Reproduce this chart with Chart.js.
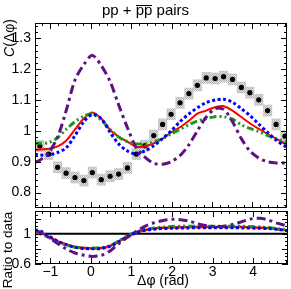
<!DOCTYPE html>
<html><head><meta charset="utf-8">
<script src="https://cdn.jsdelivr.net/npm/chart.js@4.4.1/dist/chart.umd.min.js"></script>
<style>
html,body{margin:0;padding:0;background:#fff;}
#wrap{position:relative;width:291px;height:289px;overflow:hidden;background:#fff;font-family:"Liberation Sans",Arial,sans-serif;color:#000;}
canvas{position:absolute;left:0;}
.lbl{position:absolute;white-space:nowrap;color:#000;}
</style></head><body>
<div id="wrap">
<canvas id="main" width="291" height="212" style="top:0"></canvas>
<canvas id="ratio" width="291" height="78" style="top:211px"></canvas>
<div class="lbl" style="left:0;top:1px;width:291px;text-align:center;font-size:15px;line-height:17px;">pp + <span style="display:inline-block;border-top:1.3px solid #000;line-height:7px;">pp</span> pairs</div>
<div class="lbl" style="left:-22px;top:30px;width:62px;height:16px;line-height:16px;font-size:14px;text-align:center;transform:rotate(-90deg);"><i>C</i>(Δφ)</div>
<div class="lbl" style="left:-37px;top:242px;width:90px;height:16px;line-height:16px;font-size:13.5px;text-align:center;transform:rotate(-90deg);">Ratio to data</div>
<div class="lbl" style="left:113px;top:272px;width:100px;text-align:center;font-size:14px;line-height:17px;">Δφ (rad)</div>
</div>
<script>
// ---- data ----
const phi = [-1.26,-1.04,-0.82,-0.61,-0.39,-0.17,0.04,0.26,0.48,0.69,0.91,1.13,1.34,1.56,1.78,1.99,2.21,2.43,2.64,2.86,3.08,3.29,3.51,3.73,3.94,4.16,4.38,4.59,4.81];
const dataC = [0.951,0.925,0.882,0.863,0.849,0.839,0.865,0.842,0.853,0.860,0.880,0.925,0.952,0.985,1.021,1.054,1.091,1.121,1.148,1.172,1.170,1.176,1.167,1.141,1.124,1.101,1.066,1.021,0.983];
const sysErr = [0.018,0.018,0.018,0.018,0.018,0.018,0.018,0.018,0.018,0.018,0.018,0.018,0.018,0.018,0.018,0.018,0.018,0.018,0.018,0.018,0.018,0.018,0.018,0.018,0.018,0.018,0.018,0.018,0.018];

const modelPhi = [-1.38,-1.26,-1.04,-0.82,-0.61,-0.39,-0.17,0.04,0.26,0.48,0.69,0.91,1.13,1.34,1.56,1.78,1.99,2.21,2.43,2.64,2.86,3.08,3.29,3.51,3.73,3.94,4.16,4.38,4.59,4.81,4.86];
const modelRed    = [0.938,0.940,0.942,0.950,0.968,1.005,1.040,1.060,1.040,1.003,0.982,0.965,0.948,0.950,0.960,0.975,0.995,1.012,1.033,1.056,1.066,1.077,1.080,1.066,1.045,1.025,1.007,0.990,0.975,0.958,0.955];
const modelBlue   = [0.925,0.922,0.922,0.930,0.945,0.985,1.030,1.053,1.040,0.995,0.958,0.935,0.925,0.935,0.952,0.975,1.000,1.030,1.055,1.075,1.092,1.100,1.103,1.093,1.072,1.050,1.022,0.995,0.970,0.950,0.946];
const modelGreen  = [0.960,0.960,0.962,0.978,1.005,1.030,1.048,1.055,1.035,1.005,0.980,0.965,0.958,0.958,0.964,0.975,0.990,1.005,1.020,1.032,1.040,1.046,1.046,1.038,1.020,1.008,0.998,0.985,0.975,0.965,0.963];
const modelPurple = [0.898,0.905,0.930,0.980,1.065,1.165,1.215,1.245,1.212,1.160,1.085,1.010,0.945,0.915,0.895,0.892,0.900,0.920,0.955,1.000,1.045,1.072,1.070,1.030,0.975,0.935,0.912,0.900,0.896,0.896,0.896];

const ratioRed    = [1.035,1.020,0.960,0.900,0.860,0.825,0.810,0.805,0.810,0.840,0.900,0.970,1.020,1.050,1.068,1.078,1.082,1.085,1.088,1.090,1.090,1.090,1.090,1.090,1.088,1.085,1.080,1.075,1.060,1.045,1.040];
const ratioBlue   = [1.045,1.040,0.970,0.900,0.855,0.820,0.805,0.800,0.805,0.835,0.895,0.965,1.015,1.045,1.060,1.068,1.072,1.075,1.077,1.078,1.078,1.078,1.078,1.078,1.077,1.075,1.072,1.068,1.058,1.043,1.040];
const ratioGreen  = [1.000,1.000,0.950,0.890,0.850,0.820,0.810,0.810,0.815,0.845,0.905,0.975,1.025,1.055,1.075,1.088,1.095,1.100,1.100,1.100,1.100,1.100,1.100,1.100,1.098,1.095,1.090,1.082,1.068,1.055,1.050];
const ratioPurple = [1.045,1.020,0.950,0.870,0.800,0.745,0.715,0.700,0.715,0.775,0.870,0.955,1.035,1.100,1.145,1.175,1.190,1.185,1.165,1.130,1.105,1.095,1.100,1.125,1.160,1.195,1.205,1.180,1.140,1.110,1.100];

const xTicks = [-1,0,1,2,3,4];
const mainYTicks = [0.8,0.9,1,1.1,1.2,1.3];
const ratioYTicks = [0.6,0.8,1,1.2];

// ---- styling ----
const FONT = "'Liberation Sans', Arial, sans-serif";
Chart.defaults.font.family = FONT;
Chart.defaults.font.size = 14;
Chart.defaults.color = '#000';

const COL = {red:'#ff0000', blue:'#0000ff', green:'#1a9a1a', purple:'#5c1280'};

function pts(xs, ys){ return xs.map((x,i)=>({x, y:ys[i]})); }
function fmtNum(v){ return String(Math.round(v*100)/100).replace('-', '\u2212'); }

const rootFrame = {
  id:'rootFrame',
  beforeDatasetsDraw(chart, args, o){
    if (o.refLine == null) return;
    const {ctx, chartArea:a, scales:{y}} = chart;
    const py = y.getPixelForValue(o.refLine);
    ctx.save(); ctx.strokeStyle='#000'; ctx.lineWidth=2;
    ctx.beginPath(); ctx.moveTo(a.left,py); ctx.lineTo(a.right,py); ctx.stroke(); ctx.restore();
  },
  afterDatasetsDraw(chart, args, o){
    const {ctx, chartArea:a, scales:{x,y}} = chart;
    ctx.save(); ctx.strokeStyle='#000'; ctx.lineWidth=1;
    ctx.strokeRect(Math.round(a.left)+0.5, Math.round(a.top)+0.5, Math.round(a.right-a.left)-1, Math.round(a.bottom-a.top)-1);
    ctx.beginPath();
    const steps = (scale, step, cb) => { const n0=Math.ceil(scale.min/step-1e-9), n1=Math.floor(scale.max/step+1e-9); for(let k=n0;k<=n1;k++) cb(scale.getPixelForValue(k*step)); };
    const xt = (px,len)=>{ const X=Math.round(px)+0.5; ctx.moveTo(X,a.bottom); ctx.lineTo(X,a.bottom-len); ctx.moveTo(X,a.top); ctx.lineTo(X,a.top+len); };
    const yt = (py,len)=>{ const Y=Math.round(py)+0.5; ctx.moveTo(a.left,Y); ctx.lineTo(a.left+len,Y); ctx.moveTo(a.right,Y); ctx.lineTo(a.right-len,Y); };
    steps(x, o.xMinor, p=>xt(p,3));
    o.xMajor.forEach(v=>xt(x.getPixelForValue(v),6));
    steps(y, o.yMinor, p=>yt(p,3));
    o.yMajor.forEach(v=>yt(y.getPixelForValue(v),6));
    ctx.stroke(); ctx.restore();
  }
};

function pattern(ctx){
  const c=document.createElement('canvas'); c.width=2; c.height=2;
  const g=c.getContext('2d');
  g.fillStyle='#e0e0e0'; g.fillRect(0,0,2,2);
  g.fillStyle='#b4b4b4'; g.fillRect(0,0,1,1); g.fillRect(1,1,1,1);
  return ctx.createPattern(c,'repeat');
}

function lineDs(xs, ys, color, width, dash, order){
  return {type:'line', data:pts(xs,ys), borderColor:color, backgroundColor:color, borderWidth:width,
    borderDash:dash, borderCapStyle:'butt', pointRadius:0, fill:false, tension:0.3, clip:0, order};
}

function yAxis(min, max, ticks){
  return {type:'linear', min, max, position:'left',
    grid:{display:false, drawTicks:false}, border:{display:false},
    ticks:{padding:4, callback:fmtNum, font:{size:14}},
    afterBuildTicks:s=>{ s.ticks = ticks.map(v=>({value:v})); },
    afterFit:s=>{ s.width=35; s.paddingTop=0; s.paddingBottom=0; }};
}

const mainCtx = document.getElementById('main').getContext('2d');
new Chart(mainCtx, {
  type:'line',
  data:{datasets:[
    {type:'bar', data:phi.map((x,i)=>({x, y:[dataC[i]-sysErr[i], dataC[i]+sysErr[i]]})),
      backgroundColor:pattern(mainCtx), borderWidth:0, barPercentage:1, categoryPercentage:1, clip:0, order:10},
    {type:'line', data:pts(phi,dataC), showLine:false, pointRadius:2.6, pointBackgroundColor:'#000', pointBorderWidth:0, borderColor:'#000', clip:0, order:9},
    lineDs(modelPhi, modelRed, COL.red, 2, [], 4),
    lineDs(modelPhi, modelGreen, COL.green, 3, [7,3,2,3,2,3], 3),
    lineDs(modelPhi, modelBlue, COL.blue, 3, [3,2.5], 2),
    lineDs(modelPhi, modelPurple, COL.purple, 3, [9,4,3,4], 1)
  ]},
  options:{
    responsive:false, animation:false, devicePixelRatio:1, events:[],
    layout:{padding:{top:23, right:3, bottom:1, left:0}},
    plugins:{legend:{display:false}, tooltip:{enabled:false},
      rootFrame:{xMajor:xTicks, xMinor:0.2, yMajor:mainYTicks, yMinor:0.02}},
    scales:{
      x:{type:'linear', min:-1.38, max:4.86, offset:false, display:false, grid:{offset:false}},
      y:yAxis(0.75, 1.35, mainYTicks)
    }
  },
  plugins:[rootFrame]
});

const ratioCtx = document.getElementById('ratio').getContext('2d');
new Chart(ratioCtx, {
  type:'line',
  data:{datasets:[
    lineDs(modelPhi, ratioRed, COL.red, 2.5, [], 4),
    lineDs(modelPhi, ratioGreen, COL.green, 3, [7,3,2,3,2,3], 3),
    lineDs(modelPhi, ratioBlue, COL.blue, 3, [3,2.5], 2),
    lineDs(modelPhi, ratioPurple, COL.purple, 3, [9,4,3,4], 1)
  ]},
  options:{
    responsive:false, animation:false, devicePixelRatio:1, events:[],
    layout:{padding:{top:0, right:3, bottom:0, left:0}},
    plugins:{legend:{display:false}, tooltip:{enabled:false},
      rootFrame:{xMajor:xTicks, xMinor:0.2, yMajor:ratioYTicks, yMinor:0.05, refLine:1}},
    scales:{
      x:{type:'linear', min:-1.38, max:4.86, offset:false, position:'bottom',
        grid:{display:false, drawTicks:false, offset:false}, border:{display:false},
        ticks:{padding:0, callback:fmtNum, font:{size:14}, maxRotation:0, autoSkip:false},
        afterBuildTicks:s=>{ s.ticks = xTicks.map(v=>({value:v})); },
        afterFit:s=>{ s.height=25; s.paddingLeft=0; s.paddingRight=0; }},
      y:yAxis(0.6, 1.3, ratioYTicks)
    }
  },
  plugins:[rootFrame]
});
</script>
</body></html>
